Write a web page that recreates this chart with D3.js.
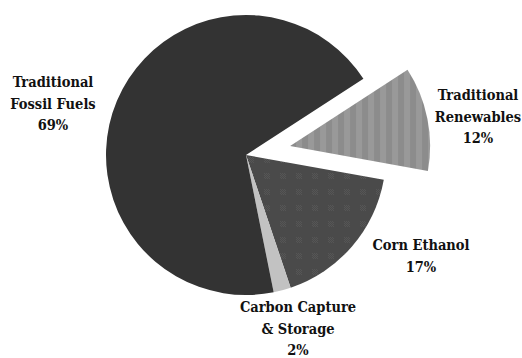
<!DOCTYPE html>
<html><head><meta charset="utf-8">
<script src="https://cdn.jsdelivr.net/npm/d3@7"></script>
<style>html,body{margin:0;padding:0;background:#fff;}svg{display:block;}
.lbl{font-family:"DejaVu Serif Condensed","DejaVu Serif",serif;font-stretch:condensed;font-weight:bold;font-size:14.5px;fill:#111;}</style>
</head><body>
<svg id="c" width="522" height="358"></svg>
<script>
const categories = ["Traditional Renewables", "Corn Ethanol", "Carbon Capture & Storage", "Traditional Fossil Fuels"];
const values = [12, 17, 2, 69];
const labelLines = [["Traditional", "Renewables", "12%"], ["Corn Ethanol", "17%"], ["Carbon Capture", "& Storage", "2%"], ["Traditional", "Fossil Fuels", "69%"]];
const exploded = [true, false, false, false];

const svg = d3.select("#c");
const cx = 246, cy = 155, R = 140, explodeOff = 45;
const defs = svg.append("defs");

const stripes = defs.append("pattern").attr("id", "stripes").attr("patternUnits", "userSpaceOnUse")
  .attr("width", 12).attr("height", 12);
stripes.append("rect").attr("width", 12).attr("height", 12).attr("fill", "#8c8c8c");
stripes.append("rect").attr("x", 6).attr("width", 6).attr("height", 12).attr("fill", "#999999");

const dots = defs.append("pattern").attr("id", "dots").attr("patternUnits", "userSpaceOnUse")
  .attr("width", 16).attr("height", 16);
dots.append("rect").attr("width", 16).attr("height", 16).attr("fill", "#4a4a4a");
for (let i = 0; i < 6; i++) for (let j = 0; j < 6; j++) {
  if ((i + j) % 2 === 0) dots.append("rect").attr("x", 2 + i).attr("y", 2 + j).attr("width", 1).attr("height", 1).attr("fill", "#565656");
}

const fills = ["url(#stripes)", "url(#dots)", "#c2c2c2", "#333333"];

const pie = d3.pie().sort(null).value(d => d).startAngle(57 * Math.PI / 180).endAngle(417 * Math.PI / 180);
const arcs = pie(values);
const arc = d3.arc().innerRadius(0).outerRadius(R);

const g = svg.append("g").attr("transform", `translate(${cx},${cy})`);
g.selectAll("path").data(arcs).join("path")
  .attr("d", arc)
  .attr("fill", (d, i) => fills[i])
  .attr("transform", (d, i) => {
    if (!exploded[i]) return null;
    const m = (d.startAngle + d.endAngle) / 2;
    return `translate(${explodeOff * Math.sin(m)},${-explodeOff * Math.cos(m)})`;
  });

const labelPos = [[53, 87], [478, 100], [421, 250], [298, 312]];
const order = [3, 0, 1, 2];
const lh = 21.5;
const lg = svg.append("g").attr("text-anchor", "middle");
order.forEach((ci, p) => {
  const lines = labelLines[ci];
  const t = lg.append("text").attr("class", "lbl").attr("x", labelPos[p][0]).attr("y", labelPos[p][1]);
  lines.forEach((s, k) => {
    t.append("tspan").attr("x", labelPos[p][0]).attr("dy", k === 0 ? 0 : lh).text(s);
  });
});
</script>
</body></html>
